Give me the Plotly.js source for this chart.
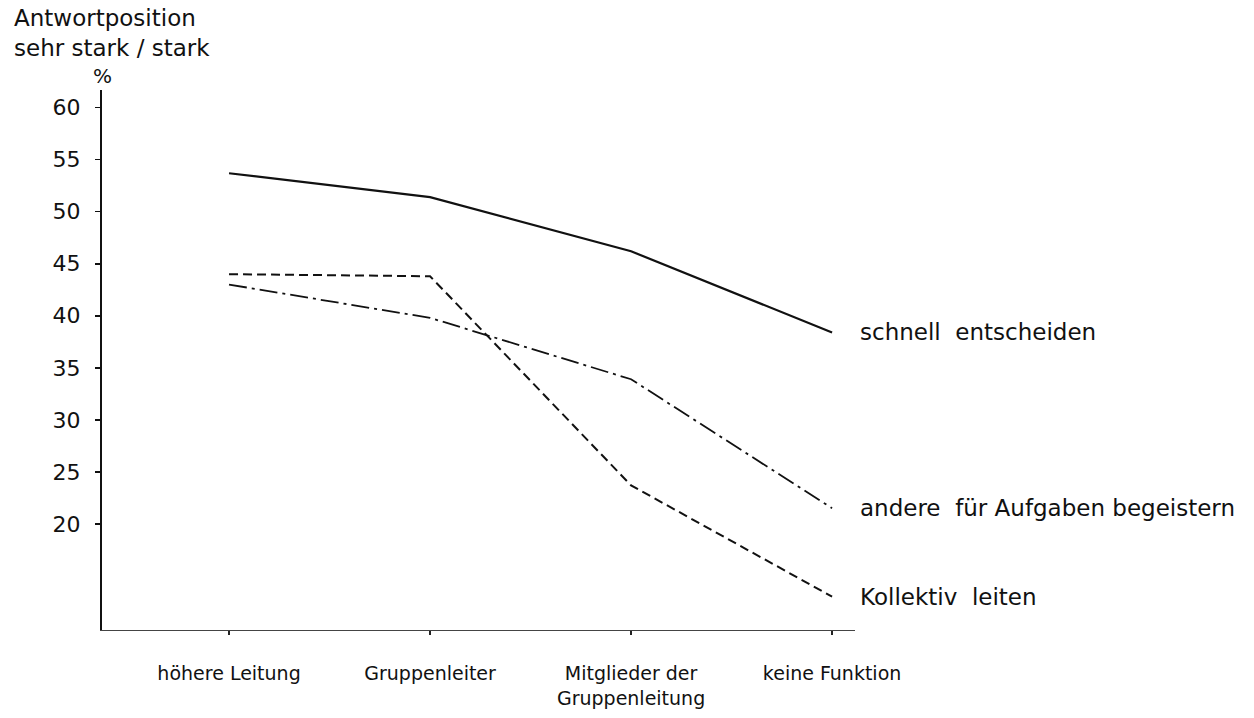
<!DOCTYPE html>
<html>
<head>
<meta charset="utf-8">
<script src="https://cdn.plot.ly/plotly-3.0.1.min.js"></script>
<style>
html,body{margin:0;padding:0;background:#fff;}
#chart{width:1254px;height:718px;}
</style>
</head>
<body>
<div id="chart"></div>
<script>
const categories = ["höhere Leitung", "Gruppenleiter", "Mitglieder der<br>Gruppenleitung", "keine Funktion"];
const schnellEntscheiden = [53.7, 51.4, 46.2, 38.4];
const andereBegeistern = [43.0, 39.8, 33.9, 21.5];
const kollektivLeiten = [44.0, 43.8, 23.7, 13.0];
const seriesNames = ["schnell  entscheiden", "andere  für Aufgaben begeistern", "Kollektiv  leiten"];
const yTicks = [20, 25, 30, 35, 40, 45, 50, 55, 60];

const FONT = "DejaVu Sans, sans-serif";

const series = [
  {y: schnellEntscheiden, dash: "solid", width: 2.2},
  {y: andereBegeistern, dash: "18px,5px,3px,5px", width: 1.8},
  {y: kollektivLeiten, dash: "9px,5px", width: 2}
];

const traces = series.map((s, i) => ({
  type: "scatter",
  mode: "lines",
  x: categories,
  y: s.y,
  name: seriesNames[i],
  line: {color: "#111", width: s.width, dash: s.dash},
  hoverinfo: "x+y+name"
}));

const annotations = series.map((s, i) => ({
  xref: "paper", yref: "y",
  x: 1, y: s.y[s.y.length - 1],
  xanchor: "left", yanchor: "middle",
  xshift: 3,
  text: seriesNames[i].replace(/ /g, "&nbsp;"),
  showarrow: false,
  font: {family: FONT, size: 23, color: "#111"}
}));

annotations.push({
  xref: "paper", yref: "paper",
  x: 0, y: 1,
  xanchor: "center", yanchor: "bottom",
  yshift: 0,
  text: "%",
  showarrow: false,
  font: {family: FONT, size: 20, color: "#111"}
});

annotations.push({
  xref: "paper", yref: "paper",
  x: -0.1195, y: 1.162,
  xanchor: "left", yanchor: "top",
  align: "left",
  text: "Antwortposition<br>sehr stark / stark",
  showarrow: false,
  font: {family: FONT, size: 23, color: "#111"}
});

const layout = {
  width: 1254, height: 718,
  margin: {l: 102, r: 399, t: 90, b: 88},
  paper_bgcolor: "#fff",
  plot_bgcolor: "#fff",
  showlegend: false,
  xaxis: {
    type: "category",
    range: [-0.632, 3.114],
    showline: true, linecolor: "#444", linewidth: 1.3,
    showgrid: false, zeroline: false,
    ticks: "outside", ticklen: 4, tickwidth: 1.5, tickcolor: "#222",
    ticklabelstandoff: 22,
    tickfont: {family: FONT, size: 19, color: "#111"}
  },
  yaxis: {
    range: [9.8, 61.7],
    showline: true, linecolor: "#111", linewidth: 2,
    showgrid: false, zeroline: false,
    tickvals: yTicks,
    ticktext: yTicks.map(String),
    ticks: "outside", ticklen: 5, tickwidth: 1.5, tickcolor: "#111",
    ticklabelstandoff: 10,
    tickfont: {family: FONT, size: 22, color: "#111"}
  },
  annotations: annotations
};

Plotly.newPlot("chart", traces, layout, {displayModeBar: false, staticPlot: true});
</script>
</body>
</html>
